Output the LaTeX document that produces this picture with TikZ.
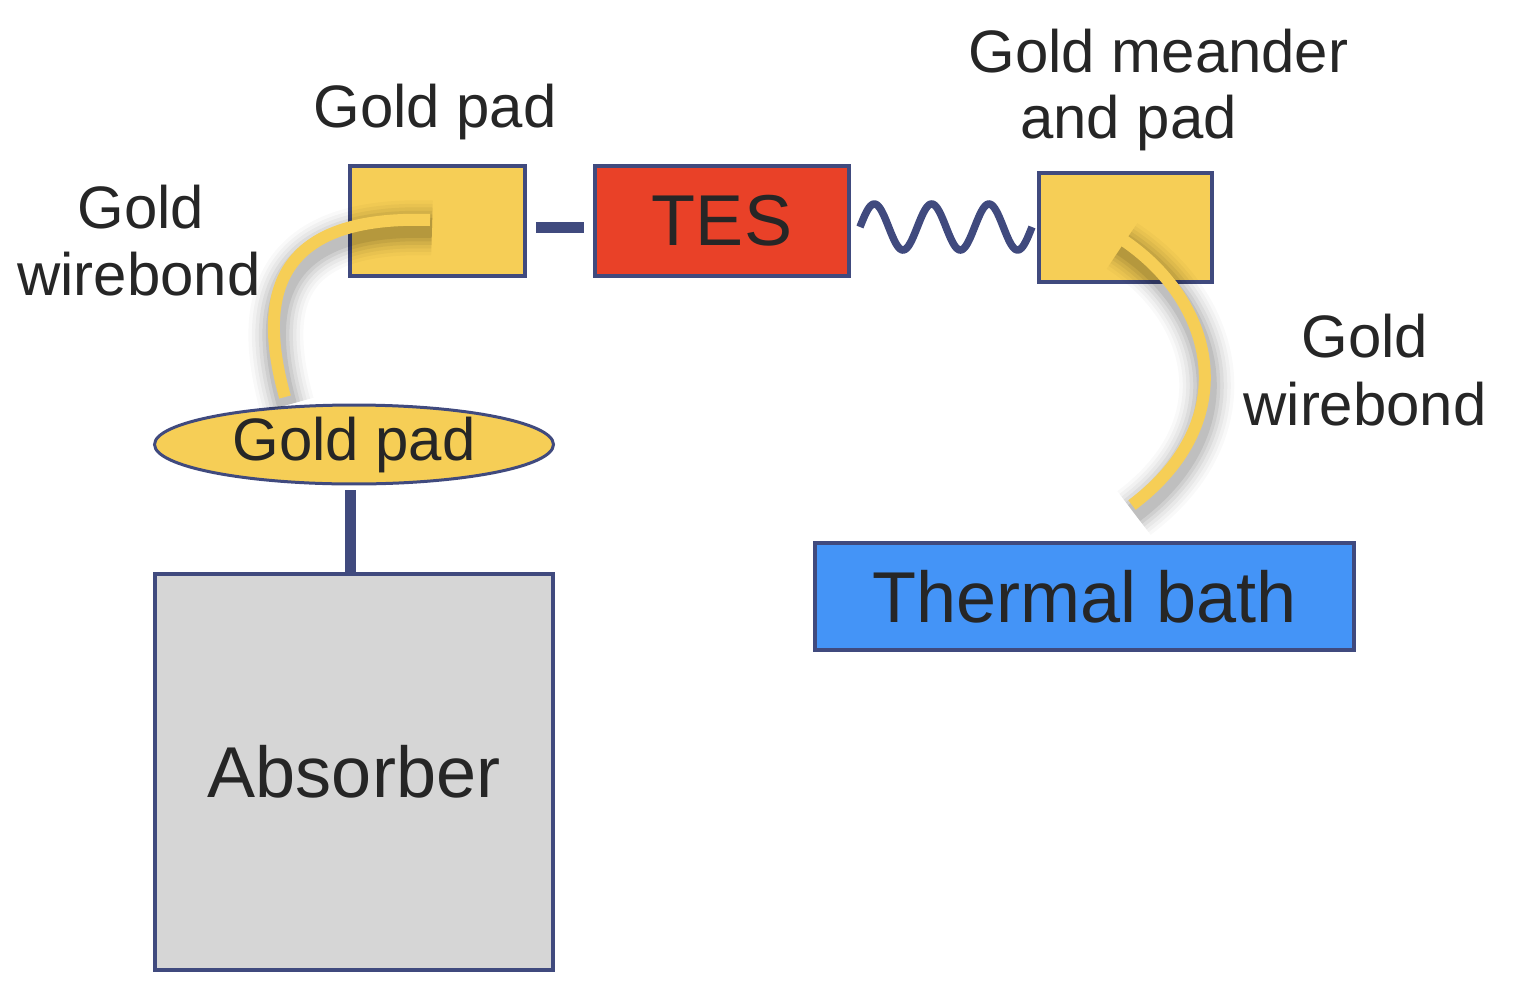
\documentclass[tikz,border=0pt]{standalone}
\usepackage{fontspec}
\setmainfont{Liberation Sans}
\usetikzlibrary{shapes.geometric}
\definecolor{gold}{RGB}{246,206,86}
\definecolor{edge}{RGB}{64,74,126}
\definecolor{tesred}{RGB}{233,65,40}
\definecolor{bathblue}{RGB}{68,148,247}
\definecolor{absgrey}{RGB}{214,214,214}
\definecolor{ink}{RGB}{38,38,38}
\begin{document}
\begin{tikzpicture}[x=0.02cm,y=-0.02cm,
  box/.style={draw=edge, line width=0.08cm, inner sep=0pt, text=ink},
  small/.style={text=ink, font=\fontsize{34.1}{40}\selectfont, inner sep=0pt},
  big/.style={font=\fontsize{41}{48}\selectfont},
  bar/.style={draw=edge, line width=0.22cm},
  wire/.style={draw=gold, line width=0.24cm},
  wireshadow/.style={draw=black, transform canvas={shift={(0.04cm,-0.16cm)}}},
  wavy/.style={draw=edge, line width=0.15cm}
]
\useasboundingbox (0,0) rectangle (1534,998);

% boxes
\node[box, fill=gold, minimum width=3.5cm, minimum height=2.2cm] (pad1) at (437.5,221) {};
\node[box, fill=tesred, minimum width=5.08cm, minimum height=2.2cm, big] (tes) at (722,221) {TES};
\node[box, fill=gold, minimum width=3.46cm, minimum height=2.18cm] (pad2) at (1125.5,227.5) {};
\node[box, fill=bathblue, minimum width=10.78cm, minimum height=2.14cm, big] (bath) at (1084.5,596.5) {Thermal bath};
\node[box, fill=absgrey, minimum width=7.96cm, minimum height=7.92cm, big] (abs) at (354,772) {Absorber};
\node[ellipse, draw=edge, line width=0.06cm, fill=gold, minimum width=7.98cm, minimum height=1.52cm, small] (pad3) at (354,444.5) {Gold pad};

% connectors
\draw[bar] ([xshift=0.18cm,yshift=-0.13cm]pad1.east) -- ([xshift=-0.18cm,yshift=-0.13cm]tes.west);
\coordinate (w0) at ([xshift=0.18cm,yshift=-0.12cm]tes.east);
\coordinate (w1) at ([xshift=-0.18cm,yshift=-0.01cm]pad2.west);
\begin{scope}[shift={(w0)}]
  \draw[wavy] plot[domain=0:172, samples=150, smooth] (\x, {-23*sin(6.27907*\x)});
\end{scope}
\draw[bar] ([xshift=-0.08cm,yshift=-0.1cm]pad3.south) -- ([xshift=-0.08cm]abs.north);

% wirebonds
\coordinate (wb1a) at (430,220);
\coordinate (wb1b) at (285,397);
\coordinate (wb2a) at (1120,238);
\coordinate (wb2b) at (1132,505);
\foreach \w/\o in {1.1cm/0.025,0.96cm/0.03,0.82cm/0.04,0.68cm/0.05,0.54cm/0.06,0.4cm/0.08}{
  \draw[wireshadow, line width=\w, opacity=\o] (wb1a) .. controls (280,215) and (255,290) .. (wb1b);
  \draw[wireshadow, line width=\w, opacity=\o] (wb2a) .. controls (1215,300) and (1245,420) .. (wb2b);
}
\draw[wire] (wb1a) .. controls (280,215) and (255,290) .. (wb1b);
\draw[wire] (wb2a) .. controls (1215,300) and (1245,420) .. (wb2b);

% labels
\node[small, anchor=base] (lpad) at (435,127) {Gold pad};
\node[small, anchor=base] (lmeanA) at (1158.5,72) {Gold meander};
\node[small, anchor=base] (lmeanB) at (1128.5,138) {and pad};
\node[small, anchor=base] (lwbLa) at (141,228) {Gold};
\node[small, anchor=base] (lwbLb) at (139,295) {wirebond};
\node[small, anchor=base] (lwbRa) at (1365,357) {Gold};
\node[small, anchor=base] (lwbRb) at (1365,425) {wirebond};
\end{tikzpicture}
\end{document}
